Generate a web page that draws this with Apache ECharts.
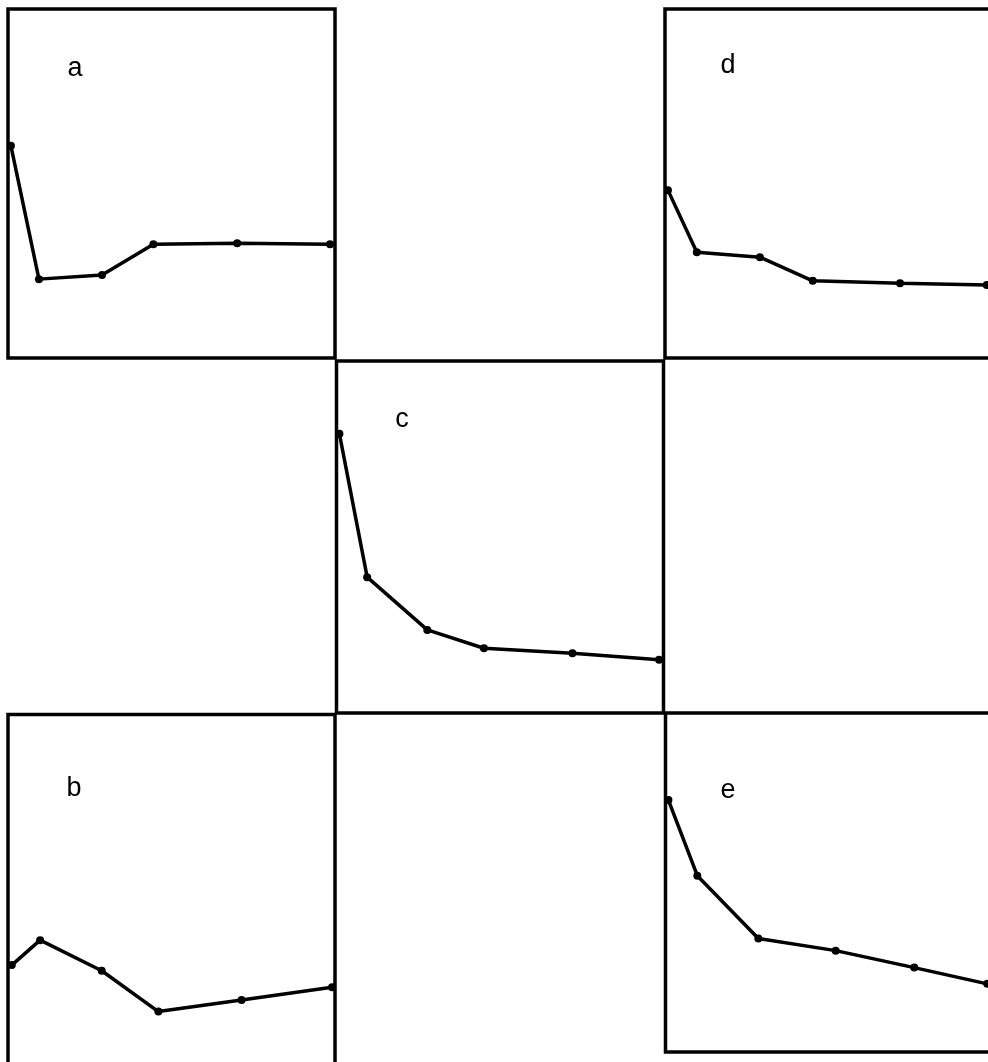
<!DOCTYPE html>
<html>
<head>
<meta charset="utf-8">
<script src="https://cdn.jsdelivr.net/npm/echarts@6/dist/echarts.min.js"></script>
<style>
html,body{margin:0;padding:0;background:#fff;}
#chart{width:988px;height:1062px;}
</style>
</head>
<body>
<div id="chart"></div>
<script>
// Panel labels
const panelNames = ['a', 'b', 'c', 'd', 'e'];
// x positions of the six points in each panel
const xA = [0.0, 0.96, 3.12, 4.88, 7.75, 10.93];
const xB = [0.03, 1.0, 3.11, 5.05, 7.9, 11.0];
const xC = [0.0, 0.95, 3.01, 4.95, 7.98, 10.95];
const xD = [0.0, 0.99, 3.15, 4.96, 7.95, 10.92];
const xE = [0.0, 0.99, 3.08, 5.73, 8.42, 10.92];
// y values (0-100 panel scale)
const yA = [60.8, 22.6, 23.8, 32.6, 32.9, 32.6];
const yB = [28.8, 35.9, 27.2, 15.6, 18.9, 22.5];
const yC = [79.3, 38.6, 23.6, 18.4, 17.0, 15.1];
const yD = [48.1, 30.3, 28.9, 22.1, 21.4, 20.9];
const yE = [74.3, 52.0, 33.5, 29.9, 24.9, 20.1];

const xs = [xA, xB, xC, xD, xE];
const ys = [yA, yB, yC, yD, yE];

// layout of each panel box
const boxes = [
  {left: 8, top: 9, width: 327, height: 349, lx: 75, ly: 69},      // a
  {left: 8, top: 714.5, width: 327, height: 352, lx: 74, ly: 789}, // b
  {left: 336.5, top: 361, width: 327, height: 352, lx: 402, ly: 420}, // c
  {left: 665, top: 9, width: 327, height: 349, lx: 728, ly: 66},   // d
  {left: 665.5, top: 713, width: 327, height: 339, lx: 728, ly: 791} // e
];

const grid = [], xAxis = [], yAxis = [], series = [], graphic = [];
boxes.forEach((b, i) => {
  grid.push({left: b.left, top: b.top, width: b.width, height: b.height,
    outerBoundsMode: 'none', containLabel: false,
    show: true, borderColor: '#000', borderWidth: 3.5, backgroundColor: 'transparent'});
  xAxis.push({type: 'value', gridIndex: i, min: -0.1, max: 11.1,
    axisLine: {show: false}, axisTick: {show: false}, axisLabel: {show: false}, splitLine: {show: false}});
  yAxis.push({type: 'value', gridIndex: i, min: 0, max: 100,
    axisLine: {show: false}, axisTick: {show: false}, axisLabel: {show: false}, splitLine: {show: false}});
  series.push({type: 'line', xAxisIndex: i, yAxisIndex: i, clip: false,
    data: xs[i].map((x, k) => [x, ys[i][k]]),
    symbol: 'circle', symbolSize: 8, showSymbol: true,
    lineStyle: {color: '#000', width: 3.5},
    itemStyle: {color: '#000'},
    emphasis: {disabled: true}, animation: false});
  graphic.push({type: 'text', x: b.lx, y: b.ly,
    style: {text: panelNames[i], fill: '#000', font: '27px "Liberation Sans", Arial, sans-serif',
      textAlign: 'center', textVerticalAlign: 'middle'}});
});

const chart = echarts.init(document.getElementById('chart'), null, {renderer: 'canvas'});
chart.setOption({backgroundColor: '#fff', animation: false, grid, xAxis, yAxis, series, graphic});
</script>
</body>
</html>
